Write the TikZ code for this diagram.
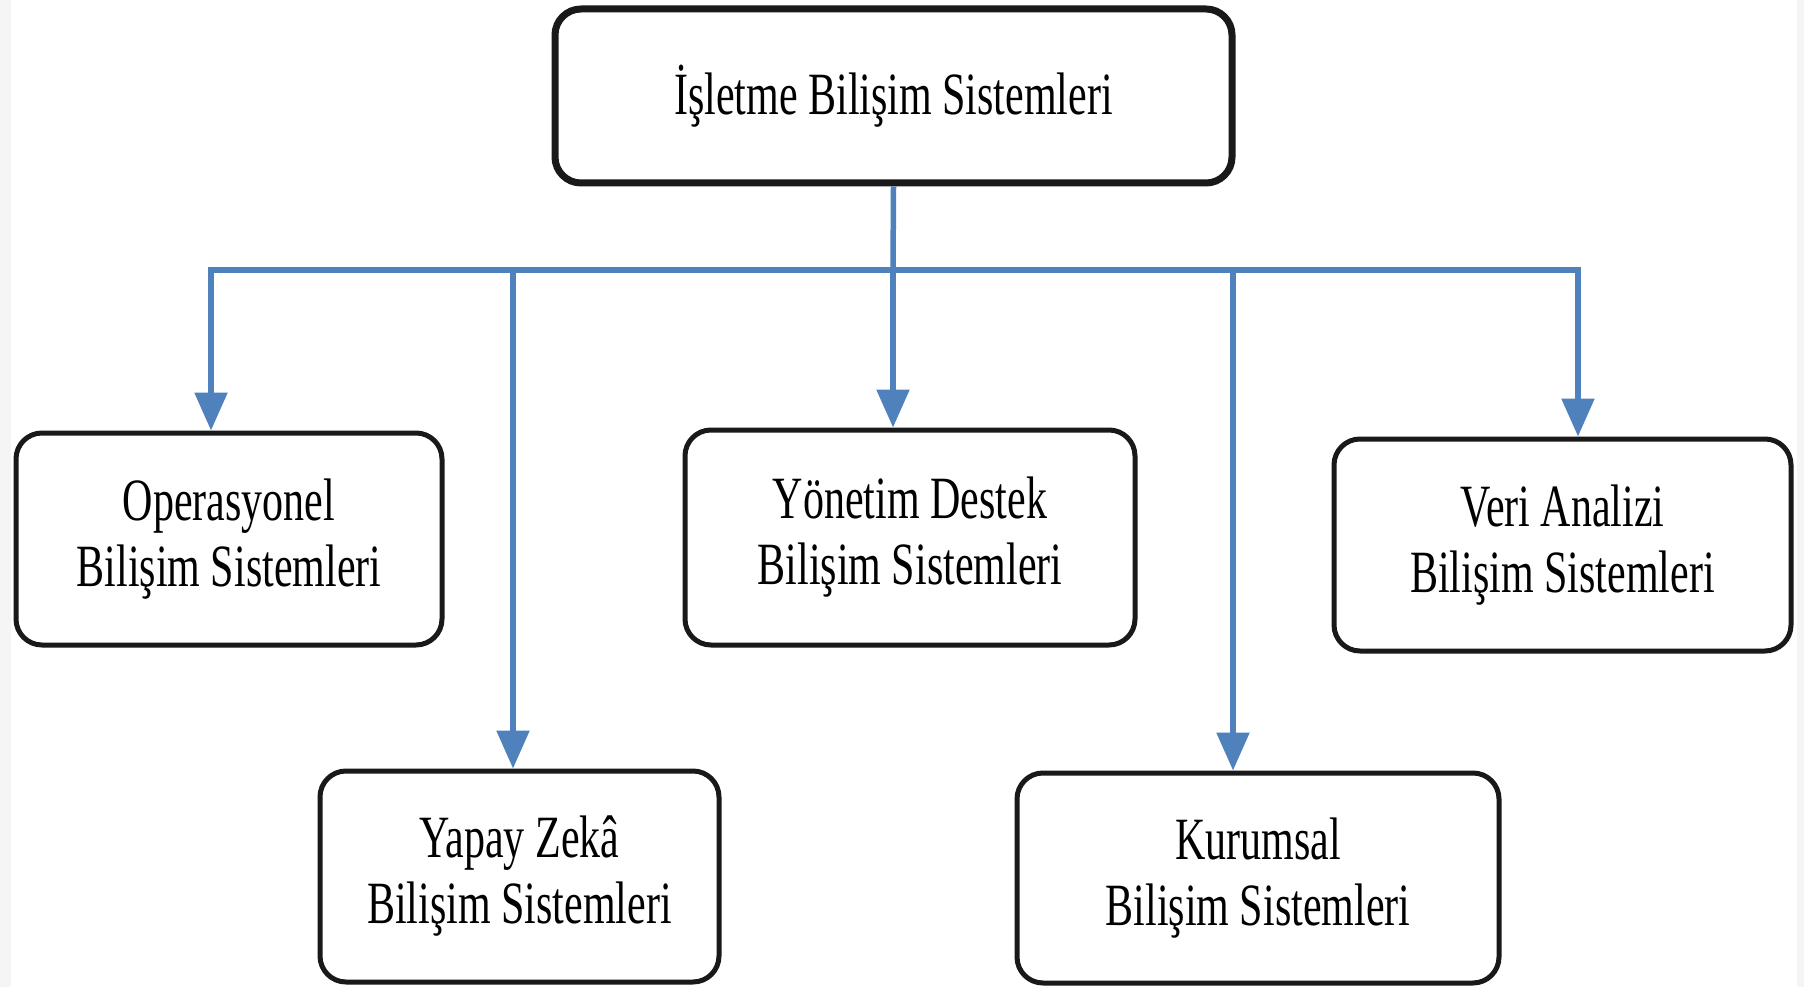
\documentclass[tikz,border=0pt]{standalone}
\usepackage{fontspec}
\setmainfont{Liberation Serif}[FakeStretch=0.7]
\usetikzlibrary{arrows.meta}
\definecolor{linkblue}{RGB}{79,129,189}
\definecolor{edgegray}{RGB}{245,245,245}

\begin{document}
\begin{tikzpicture}[x=1pt,y=-1pt,
  box/.style={draw=black!90,line width=5pt,rounded corners=26pt,fill=white,
    inner sep=0pt,align=center,font=\fontsize{60}{66}\selectfont},
  link/.style={draw=linkblue,line width=5.5pt},
  arr/.style={link,-{Triangle[width=32pt,length=38pt]}},
]
% page and its thin grey side margins
\fill[white] (0,0) rectangle (1804,987);
\fill[edgegray] (0,0) rectangle (11,987);
\fill[edgegray] (1797,0) rectangle (1804,987);
\useasboundingbox (0,0) rectangle (1804,987);

% boxes
\node[box,line width=7pt,minimum width=677pt,minimum height=174pt] (top) at (893.5,96)
  {İşletme Bilişim Sistemleri};
\node[box,minimum width=426pt,minimum height=212pt] (op) at (229,539)
  {Operasyonel\\Bilişim Sistemleri};
\node[box,minimum width=399pt,minimum height=211pt] (yz) at (519.5,876.5)
  {Yapay Zekâ\\Bilişim Sistemleri};
\node[box,minimum width=450pt,minimum height=215pt] (yd) at (910,537.5)
  {Yönetim Destek\\Bilişim Sistemleri};
\node[box,minimum width=482pt,minimum height=210pt] (ku) at (1258,878)
  {Kurumsal\\Bilişim Sistemleri};
\node[box,minimum width=457pt,minimum height=212pt] (va) at (1562.5,545)
  {Veri Analizi\\Bilişim Sistemleri};

% distribution bus
\coordinate (bus) at (893,270);
\coordinate (jop) at (211,270);
\coordinate (jyz) at (513,270);
\coordinate (jku) at (1233,270);
\coordinate (jva) at (1578,270);

\draw[link] (top.south) -- (bus);
\draw[link,line cap=rect] (jop) -- (jva);

% drops to each box
\draw[arr] (jop) -- (jop |- op.north);
\draw[arr] (jyz) -- (jyz |- yz.north);
\draw[arr] (bus) -- (bus |- yd.north);
\draw[arr] (jku) -- (jku |- ku.north);
\draw[arr] (jva) -- (jva |- va.north);
\end{tikzpicture}
\end{document}
